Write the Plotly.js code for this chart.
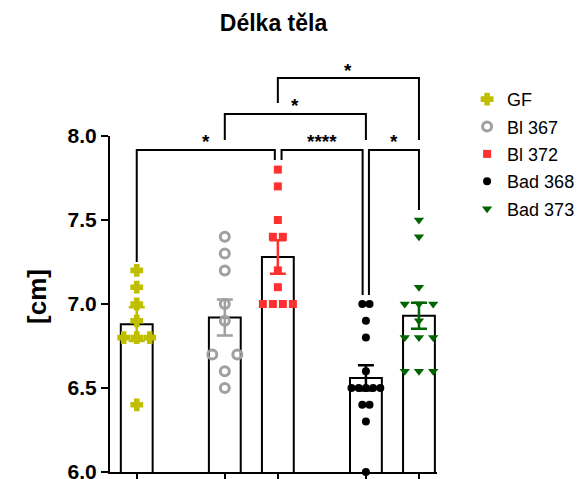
<!DOCTYPE html>
<html><head><meta charset="utf-8">
<script src="https://cdn.plot.ly/plotly-3.0.1.min.js"></script>
<style>html,body{margin:0;padding:0;background:#fff}</style>
</head><body><div id="chart" style="width:579px;height:479px"></div>
<script>
// ---- data ----
const groups = ['GF', 'Bl 367', 'Bl 372', 'Bad 368', 'Bad 373'];
const gfValues = [7.2, 7.1, 7.0, 6.9, 6.8, 6.8, 6.8, 6.4];
const bl367Values = [7.4, 7.3, 7.2, 7.0, 6.9, 6.7, 6.7, 6.6, 6.5];
const bl372Values = [7.8, 7.7, 7.5, 7.4, 7.4, 7.2, 7.1, 7.0, 7.0, 7.0, 7.0];
const bad368Values = [7.0, 7.0, 6.9, 6.8, 6.6, 6.5, 6.5, 6.5, 6.5, 6.5, 6.4, 6.4, 6.3, 6.0];
const bad373Values = [7.5, 7.4, 7.1, 7.0, 7.0, 7.0, 6.9, 6.8, 6.8, 6.8, 6.6, 6.6, 6.6];
const means = [6.88, 6.92, 7.28, 6.56, 6.93];
const sems = [0.10, 0.107, 0.10, 0.075, 0.077];
const yTicks = [6.0, 6.5, 7.0, 7.5, 8.0];
const comparisons = [[0, 2, '*'], [2, 3, '****'], [3, 4, '*'], [1, 3, '*'], [2, 4, '*']];

// ---- layout / style ----
const allValues = [gfValues, bl367Values, bl372Values, bad368Values, bad373Values];
const positions = [0, 1.66, 2.66, 4.32, 5.32];
const pxPerUnit = 53;
const jitterPx = [13, 25, 10, 7.2, 14.2];
const colors = ['#bfbf00', '#a0a0a0', '#ff3030', '#000000', '#006400'];
const symbols = ['cross', 'circle-open', 'square', 'circle', 'triangle-down'];
const sizes = [9, 9, 8, 8, 9];
const lineWidths = [2, 3, 0, 0, 0];
const bracketStyle = [
  {y: 7.917, y1: 7.25, y2: 7.857, d1: 0, d2: -0.057},
  {y: 7.917, y1: 7.857, y2: 7.054, d1: 0.07, d2: -0.062},
  {y: 7.917, y1: 7.054, y2: 7.56, d1: 0.057, d2: 0},
  {y: 8.131, y1: 7.976, y2: 7.976, d1: 0, d2: 0},
  {y: 8.345, y1: 8.196, y2: 7.976, d1: 0, d2: 0}
];
const yMin = 6, yMax = 8;
const toPaper = v => (v - yMin) / (yMax - yMin);

function jitter(vals, px) {
  const counts = {}, idx = {};
  vals.forEach(v => counts[v] = (counts[v] || 0) + 1);
  return vals.map(v => {
    const k = idx[v] = (idx[v] === undefined ? 0 : idx[v] + 1);
    return (k - (counts[v] - 1) / 2) * px / pxPerUnit;
  });
}

const traces = [];
traces.push({
  type: 'bar', x: positions, y: means, width: 0.6, showlegend: false, hoverinfo: 'skip',
  marker: {color: '#ffffff', line: {color: '#000000', width: 2}}
});
groups.forEach((g, i) => {
  const off = jitter(allValues[i], jitterPx[i]);
  traces.push({
    type: 'scatter', mode: 'markers', name: g, legendgroup: 'g' + i, cliponaxis: false,
    x: allValues[i].map((v, j) => positions[i] + off[j]), y: allValues[i],
    marker: {symbol: symbols[i], size: sizes[i], color: colors[i],
      line: {color: colors[i], width: lineWidths[i]}}
  });
});
groups.forEach((g, i) => {
  traces.push({
    type: 'scatter', mode: 'markers', showlegend: false, cliponaxis: false, hoverinfo: 'skip',
    x: [positions[i]], y: [means[i]],
    marker: {size: 1, color: 'rgba(0,0,0,0)'},
    error_y: {type: 'data', array: [sems[i]], visible: true, color: colors[i], thickness: 2.5, width: 8}
  });
});

const shapes = [], annotations = [];
comparisons.forEach((c, k) => {
  const s = bracketStyle[k];
  const xa = positions[c[0]] + s.d1, xb = positions[c[1]] + s.d2;
  shapes.push({
    type: 'path', xref: 'x', yref: 'paper',
    path: `M ${xa},${toPaper(s.y1)} L ${xa},${toPaper(s.y)} L ${xb},${toPaper(s.y)} L ${xb},${toPaper(s.y2)}`,
    line: {color: '#000', width: 2}
  });
  annotations.push({
    xref: 'x', yref: 'paper', x: (xa + xb) / 2, y: toPaper(s.y), yanchor: 'middle', yshift: 8,
    text: c[2], showarrow: false, font: {size: 19, weight: 700, color: '#000'}
  });
});
// y-axis title
annotations.push({
  xref: 'paper', yref: 'paper', x: (37 - 110) / 327, y: 0.521, xanchor: 'center', yanchor: 'middle',
  text: '[cm]', textangle: -90, showarrow: false, font: {size: 26, weight: 700, color: '#000'}
});

const axisCommon = {showline: true, linecolor: '#000', linewidth: 2, ticks: 'outside', ticklen: 7,
  tickwidth: 2, tickcolor: '#000', showgrid: false, zeroline: false, fixedrange: true};

const layout = {
  width: 579, height: 479,
  margin: {l: 110, r: 142, t: 136, b: 7, pad: 0, autoexpand: false},
  paper_bgcolor: '#fff', plot_bgcolor: '#fff',
  font: {family: 'Liberation Sans, Arial, sans-serif', color: '#000'},
  title: {text: 'Délka těla', font: {size: 23, weight: 700}, x: 0.5, xref: 'paper', xanchor: 'center',
    y: 1 - 23 / 479, yanchor: 'middle'},
  xaxis: Object.assign({}, axisCommon, {range: [-0.504, 5.66], tickvals: positions, showticklabels: false}),
  yaxis: Object.assign({}, axisCommon, {range: [yMin, yMax], tickvals: yTicks, tickformat: '.1f',
    tickfont: {size: 21, weight: 700}, ticklabeloverflow: 'allow'}),
  legend: {x: 1.092, xanchor: 'left', y: 1.164, yanchor: 'top', font: {size: 18}, bgcolor: 'rgba(0,0,0,0)',
    traceorder: 'grouped', tracegroupgap: 1},
  showlegend: true,
  shapes: shapes, annotations: annotations
};

Plotly.newPlot('chart', traces, layout, {staticPlot: true, displayModeBar: false});
</script>
</body></html>
